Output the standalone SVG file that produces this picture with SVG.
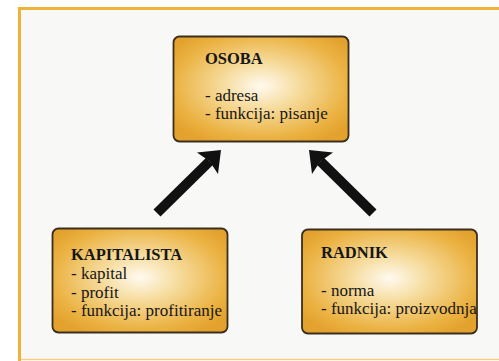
<svg xmlns="http://www.w3.org/2000/svg" width="499" height="361" viewBox="0 0 499 361">
<style>
.box{stroke:#3a2f1f;stroke-width:1.8}
.t{font-family:"Liberation Serif","Times New Roman",serif;fill:#161616}
.h{font-size:16.5px;font-weight:bold}
.r{font-size:17px}
.conn{stroke:#111;stroke-width:10;fill:none}
</style>
<defs>
<radialGradient id="g" cx="0.5" cy="0.47" r="0.62">
<stop offset="0" stop-color="#fffaf0"/>
<stop offset="0.35" stop-color="#f6dc9e"/>
<stop offset="0.8" stop-color="#ebb242"/>
<stop offset="1" stop-color="#e3a22e"/>
</radialGradient>
<marker id="ah" markerUnits="userSpaceOnUse" markerWidth="22" markerHeight="32" viewBox="0 0 22 32" refX="4" refY="16" orient="auto">
<path d="M20 16 L1 1 L4 16 L1 31 Z" fill="#111"/>
</marker>
</defs>
<rect width="499" height="361" fill="#fff"/>
<rect x="20" y="9" width="479" height="350" fill="#f8f8f6"/>
<path d="M19.5 361 V8.5 H499" fill="none" stroke="#f0b33a" stroke-width="3"/>
<line x1="21" y1="359.5" x2="499" y2="359.5" stroke="#f6cd84" stroke-width="1.5"/>
<g id="connectors">
<line class="conn" x1="157" y1="213" x2="209.6" y2="161.2" marker-end="url(#ah)"/>
<line class="conn" x1="373" y1="213" x2="320.4" y2="161.2" marker-end="url(#ah)"/>
</g>
<g id="osoba">
<rect class="box" x="173.5" y="36.5" width="175" height="105" rx="6" fill="url(#g)"/>
<text class="t h" x="205" y="64">OSOBA</text>
<text class="t r" x="205" y="101">- adresa</text>
<text class="t r" x="205" y="119">- funkcija: pisanje</text>
</g>
<g id="kapitalista">
<rect class="box" x="52.5" y="228.5" width="175" height="104" rx="6" fill="url(#g)"/>
<text class="t h" x="71" y="260">KAPITALISTA</text>
<text class="t r" x="71" y="279">- kapital</text>
<text class="t r" x="71" y="298">- profit</text>
<text class="t r" x="71" y="316">- funkcija: profitiranje</text>
</g>
<g id="radnik">
<rect class="box" x="302" y="229.5" width="175" height="104" rx="6" fill="url(#g)"/>
<text class="t h" x="321" y="258">RADNIK</text>
<text class="t r" x="321" y="296">- norma</text>
<text class="t r" x="321" y="314">- funkcija: proizvodnja</text>
</g>
</svg>
